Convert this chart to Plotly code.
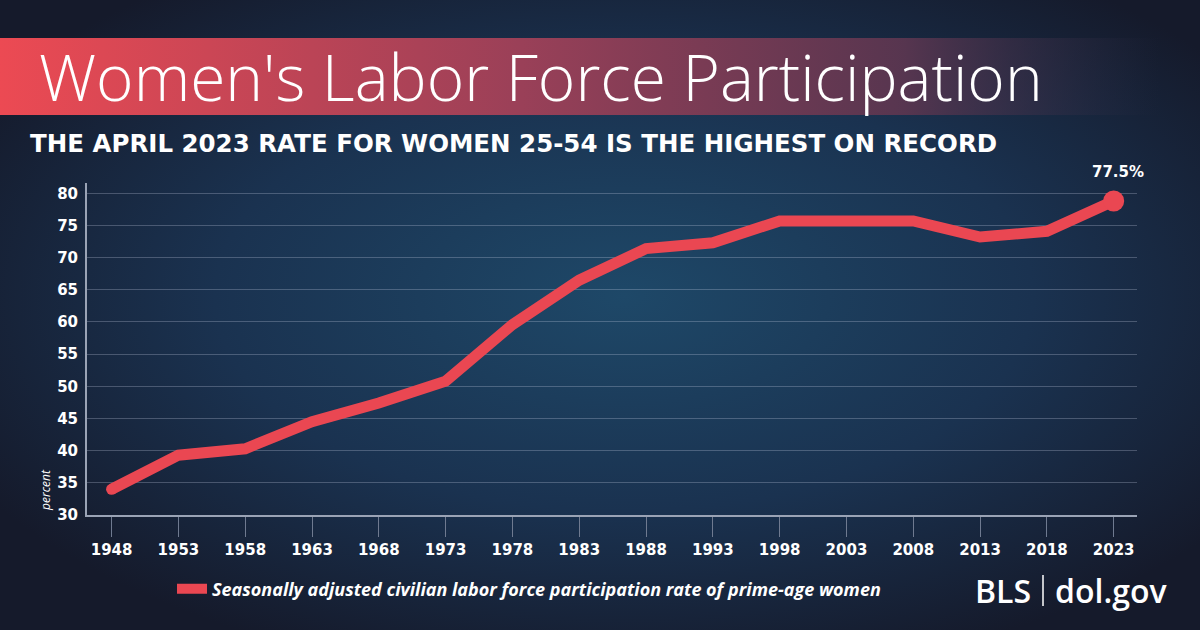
import base64
import plotly.graph_objects as go

years = ["1948", "1953", "1958", "1963", "1968", "1973", "1978", "1983",
         "1988", "1993", "1998", "2003", "2008", "2013", "2018", "2023"]
rate = [34.0, 39.3, 40.3, 44.5, 47.4, 50.8, 59.6, 66.5,
        71.4, 72.3, 75.7, 75.7, 75.7, 73.2, 74.1, 78.8]
last_label = "77.5%"
y_ticks = [30, 35, 40, 45, 50, 55, 60, 65, 70, 75, 80]

title = "Women's Labor Force Participation"
subtitle = "THE APRIL 2023 RATE FOR WOMEN 25-54 IS THE HIGHEST ON RECORD"
series_name = "Seasonally adjusted civilian labor force participation rate of prime-age women"

W, H = 1200, 630
ML, MR, MT, MB = 87, 63, 183, 115
PW, PH = W - ML - MR, H - MT - MB

RED = "#ea4752"
TICKFONT = dict(family="DejaVu Sans", size=15, color="white", weight=700)

bg_svg = f"""<svg xmlns='http://www.w3.org/2000/svg' width='{W}' height='{H}' viewBox='0 0 {W} {H}' preserveAspectRatio='none'>
<defs>
<radialGradient id='g' cx='0.52' cy='0.47' r='0.62'>
<stop offset='0' stop-color='#1e4868'/>
<stop offset='0.55' stop-color='#1a3250'/>
<stop offset='1' stop-color='#151a2b'/>
</radialGradient>
<linearGradient id='b' x1='0' y1='0' x2='1' y2='0'>
<stop offset='0' stop-color='#ec4a53' stop-opacity='1'/>
<stop offset='0.45' stop-color='#9a4058' stop-opacity='1'/>
<stop offset='0.78' stop-color='#5a3650' stop-opacity='0.95'/>
<stop offset='1' stop-color='#2a2c44' stop-opacity='0'/>
</linearGradient>
</defs>
<rect width='{W}' height='{H}' fill='url(#g)'/>
<rect x='0' y='38' width='1160' height='77' fill='url(#b)'/>
</svg>"""
bg_uri = "data:image/svg+xml;base64," + base64.b64encode(bg_svg.encode()).decode()

sizes = [11] + [0] * (len(rate) - 2) + [21]

fig = go.Figure()
fig.add_trace(go.Scatter(
    x=years, y=rate, mode="lines+markers", name=series_name,
    line=dict(color=RED, width=11),
    marker=dict(color=RED, size=sizes, opacity=1, line=dict(width=0)),
    hoverinfo="x+y",
))

annotations = [
    dict(x=len(years) - 1, y=rate[-1], xref="x", yref="y", text=last_label, showarrow=False,
         yshift=29, xshift=4, font=TICKFONT),
    dict(text=title, xref="paper", yref="paper", x=(37 - ML) / PW, y=1 + (MT - 76) / PH,
         xanchor="left", yanchor="middle", showarrow=False,
         font=dict(family="Open Sans", size=64, color="white", weight=300)),
    dict(text=subtitle, xref="paper", yref="paper", x=(28 - ML) / PW, y=1 + (MT - 143) / PH,
         xanchor="left", yanchor="middle", showarrow=False,
         font=dict(family="DejaVu Sans", size=24.5, color="white", weight=700)),
    dict(text="percent", xref="paper", yref="paper", x=(45 - ML) / PW, y=(515 - 490) / PH,
         xanchor="center", yanchor="middle", showarrow=False, textangle=-90,
         font=dict(family="Open Sans", size=12, color="white", style="italic")),
    dict(text="BLS", xref="paper", yref="paper", x=(1033 - ML) / PW, y=-(590 - 515) / PH,
         xanchor="right", yanchor="middle", showarrow=False,
         font=dict(family="Open Sans", size=32, color="white", weight=600)),
    dict(text="dol.gov", xref="paper", yref="paper", x=(1053 - ML) / PW, y=-(590 - 515) / PH,
         xanchor="left", yanchor="middle", showarrow=False,
         font=dict(family="Open Sans", size=32, color="white", weight=600)),
]

fig.update_layout(
    width=W, height=H,
    margin=dict(l=ML, r=MR, t=MT, b=MB),
    paper_bgcolor="#151a2b", plot_bgcolor="rgba(0,0,0,0)",
    images=[dict(source=bg_uri, xref="paper", yref="paper",
                 x=-ML / PW, y=1 + MT / PH, sizex=W / PW, sizey=H / PH,
                 sizing="stretch", xanchor="left", yanchor="top", layer="below")],
    showlegend=True,
    legend=dict(orientation="h", x=(172 - ML) / PW, y=-(589 - 515) / PH, yanchor="middle",
                xanchor="left", bgcolor="rgba(0,0,0,0)",
                font=dict(family="Open Sans", size=18, color="white", style="italic", weight=700)),
    xaxis=dict(type="category", range=[-0.368, 15.349], showgrid=False,
               showline=True, linecolor="#9aa3b5", linewidth=2,
               ticks="outside", ticklen=20, tickcolor="#6f7a90", tickwidth=1,
               tickfont=TICKFONT, zeroline=False, fixedrange=True),
    yaxis=dict(range=[30, 81.6], tickvals=y_ticks, showgrid=True,
               gridcolor="rgba(200,210,230,0.28)", gridwidth=1,
               showline=True, linecolor="#9aa3b5", linewidth=2,
               ticks="", ticklabelstandoff=4,
               tickfont=TICKFONT, zeroline=False, fixedrange=True),
    annotations=annotations,
    shapes=[dict(type="line", xref="paper", yref="paper",
                 x0=(1043 - ML) / PW, x1=(1043 - ML) / PW,
                 y0=-(575 - 515) / PH, y1=-(606 - 515) / PH,
                 line=dict(color="white", width=1.5))],
)

fig.write_html("out.html", config={"displayModeBar": False},
               post_script="document.body.style.margin='0';document.body.style.background='#151a2b';")
